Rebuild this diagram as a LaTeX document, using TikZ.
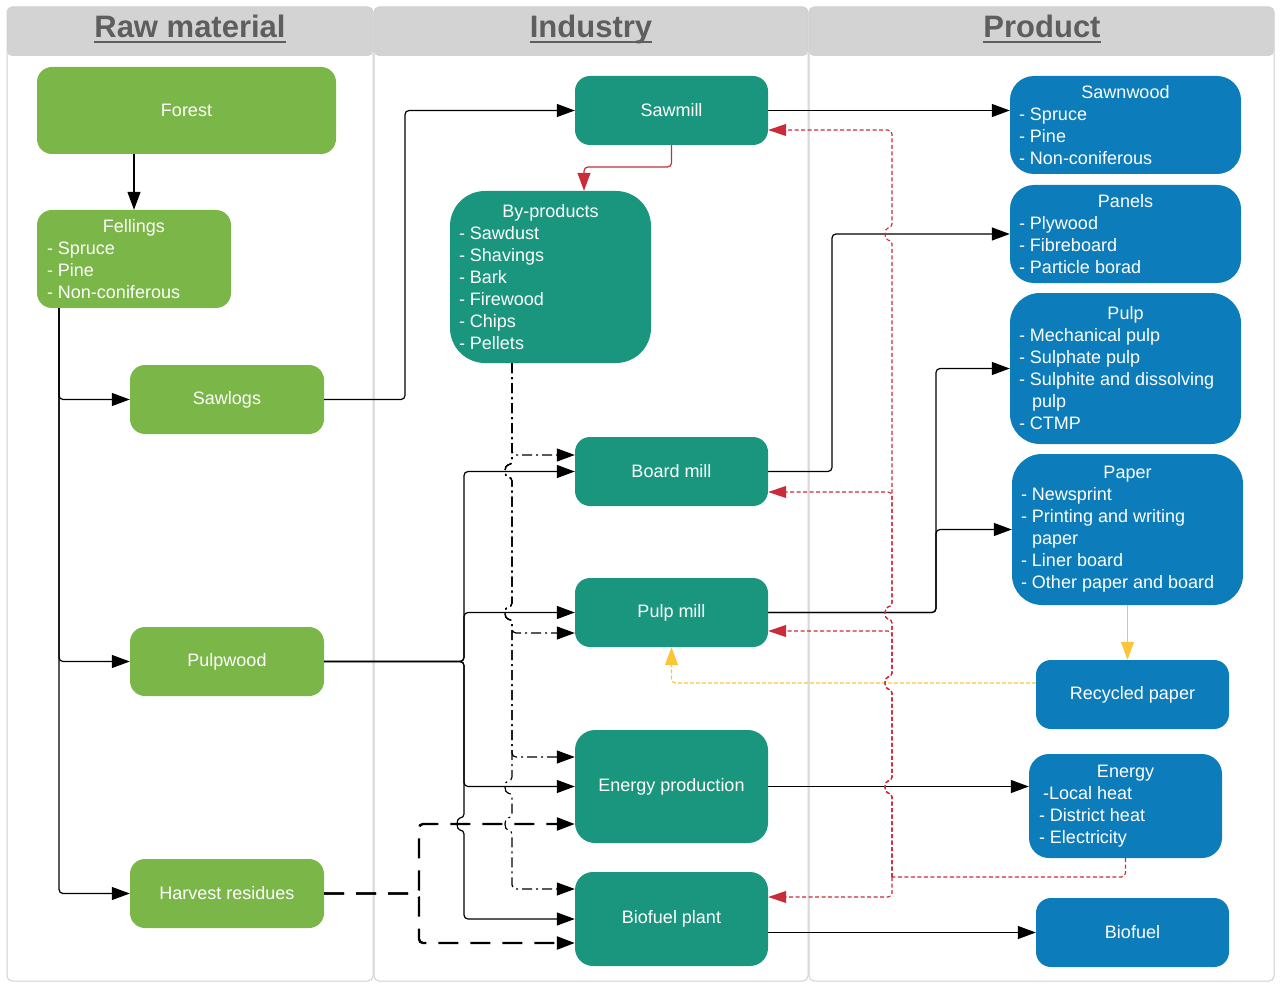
\documentclass[tikz,border=0pt]{standalone}
\usepackage{fontspec}
\setmainfont{Liberation Sans}
\usetikzlibrary{arrows.meta,calc}

\definecolor{rawgreen}{HTML}{7AB648}
\definecolor{indteal}{HTML}{19967D}
\definecolor{prodblue}{HTML}{0C7CBA}
\definecolor{backred}{HTML}{C92D39}
\definecolor{recyyellow}{HTML}{FCC438}
\definecolor{hdrgray}{HTML}{D3D3D3}
\definecolor{hdrtext}{HTML}{5E5E5E}
\definecolor{lanegray}{HTML}{CFCFCF}

\newcommand{\boxfont}{\fontsize{18}{22}\selectfont}
\newcommand{\hdrfont}{\fontsize{31}{36}\selectfont\bfseries}
\newcommand{\boxlist}[3]{\parbox{#1}{\centering #2\par\raggedright #3}}

\tikzset{
  raw/.style={fill=rawgreen, rounded corners=15pt, text=white, font=\boxfont,
    minimum width=194pt, minimum height=69pt, inner sep=0pt},
  ind/.style={fill=indteal, rounded corners=15pt, text=white, font=\boxfont,
    minimum width=193pt, minimum height=69pt, inner sep=0pt},
  prod/.style={fill=prodblue, rounded corners=24pt, text=white, font=\boxfont,
    minimum width=231pt, minimum height=98pt, inner sep=0pt},
  hdr/.style={anchor=base, inner sep=0pt, font=\hdrfont, text=hdrtext},
  hdrline/.style={draw=hdrtext, line width=2.5pt},
  flow/.style={draw=black, line width=1.2pt, rounded corners=4pt,
    -{Triangle[length=18pt,width=13pt]}},
  chip/.style={flow, dash pattern=on 10pt off 4pt on 2pt off 4pt},
  resid/.style={flow, line width=2.4pt, dash pattern=on 20pt off 12pt},
  back/.style={draw=backred, line width=1.1pt, dash pattern=on 4pt off 2.5pt,
    rounded corners=4pt, -{Triangle[length=18pt,width=12pt]}},
  byflow/.style={draw=backred, line width=1.2pt, rounded corners=4pt,
    -{Triangle[length=18pt,width=13pt]}},
  recflow/.style={draw=recyyellow, line width=1.3pt, rounded corners=4pt,
    -{Triangle[length=18pt,width=13pt]}},
  recback/.style={recflow, line width=1.2pt, dash pattern=on 4pt off 2pt},
}

\begin{document}
\begin{tikzpicture}[x=1pt,y=-1pt]
\useasboundingbox (0,0) rectangle (1280,987);

% lanes
\foreach \xa/\xb in {7/373,374/808,809/1274}{
  \fill[hdrgray, rounded corners=5pt] (\xa,7) rectangle (\xb,56);
  \draw[lanegray, line width=1pt, rounded corners=5pt] (\xa,7) rectangle (\xb,981);
}
\foreach \xc/\hname/\txt in {190/rawhdr/Raw material,591/indhdr/Industry,1042/prodhdr/Product}{
  \node[hdr] (\hname) at (\xc,38) {\txt};
  \draw[hdrline] ([yshift=-4pt]\hname.base west) -- ([yshift=-4pt]\hname.base east);
}

% raw material
\node[raw, minimum width=299pt, minimum height=87pt] (forest) at (186.5,110.5) {Forest};
\node[raw, minimum height=98pt] (fell) at (134,259)
  {\boxlist{174pt}{Fellings}{- Spruce\\- Pine\\- Non-coniferous}};
\node[raw] (sawlogs) at (227,399.5) {Sawlogs};
\node[raw] (pulpwood) at (227,661.5) {Pulpwood};
\node[raw] (harvest) at (227,893.5) {Harvest residues};

% industry
\node[ind] (sawmill) at (671.5,110.5) {Sawmill};
\node[ind, minimum width=201pt, minimum height=172pt, rounded corners=35pt] (byprod) at (550.5,277)
  {\boxlist{183pt}{By-products}{- Sawdust\\- Shavings\\- Bark\\- Firewood\\- Chips\\- Pellets}};
\node[ind] (board) at (671.5,471.5) {Board mill};
\node[ind] (pulpmill) at (671.5,612.5) {Pulp mill};
\node[ind, minimum height=113pt, rounded corners=20pt] (energyprod) at (671.5,786.5) {Energy production};
\node[ind, minimum height=94pt, rounded corners=18pt] (biofuelpl) at (671.5,919) {Biofuel plant};

% product
\node[prod] (sawn) at (1125.5,125)
  {\boxlist{213pt}{Sawnwood}{- Spruce\\- Pine\\- Non-coniferous}};
\node[prod] (panels) at (1125.5,234)
  {\boxlist{213pt}{Panels}{- Plywood\\- Fibreboard\\- Particle borad}};
\node[prod, minimum height=151pt, rounded corners=30pt] (pulp) at (1125.5,368.5)
  {\boxlist{213pt}{Pulp}{- Mechanical pulp\\- Sulphate pulp\\- Sulphite and dissolving\\\hspace*{13pt}pulp\\- CTMP}};
\node[prod, minimum height=151pt, rounded corners=30pt] (paper) at (1127.5,529.5)
  {\boxlist{213pt}{Paper}{- Newsprint\\- Printing and writing\\\hspace*{11pt}paper\\- Liner board\\- Other paper and board}};
\node[prod, minimum width=193pt, minimum height=69pt, rounded corners=15pt] (recyc) at (1132.5,694.5) {Recycled paper};
\node[prod, minimum width=193pt, minimum height=104pt, rounded corners=20pt] (energy) at (1125.5,806)
  {\boxlist{173pt}{Energy}{\hspace*{4pt}-Local heat\\- District heat\\- Electricity}};
\node[prod, minimum width=193pt, minimum height=69pt, rounded corners=15pt] (biofuel) at (1132.5,932.5) {Biofuel};

\coordinate (fellout) at (59,308);
\coordinate (bpout) at ($(byprod.south)+(-38.5,0)$);
\coordinate (redjoin) at (892,877);

% raw material flows
\draw[flow] (forest.south -| fell.north) -- (fell.north);
\draw[flow] (fellout) |- (sawlogs.west);
\draw[flow] (fellout) |- (pulpwood.west);
\draw[flow] (fellout) |- (harvest.west);
\draw[flow] (sawlogs.east) -- (405,399.5) |- (sawmill.west);
\draw[flow] (pulpwood.east) -- (464,661.5) -- (464,471.5) -- (board.west);
\draw[flow] (pulpwood.east) -- (464,661.5) -- (464,612.5) -- (pulpmill.west);
\draw[flow] (pulpwood.east) -- (464,661.5) -- (464,786.5) -- (energyprod.west);
\draw[flow] (pulpwood.east) -- (464,661.5) -- (464,818) .. controls (456,818) and (456,830) .. (464,830)
  -- (464,919) -- (biofuelpl.west);
\draw[resid] (harvest.east) -- (419,893.5) -- (419,824) -- ($(energyprod.west)+(0,37.5)$);
\draw[resid] (harvest.east) -- (419,893.5) -- (419,943) -- ($(biofuelpl.west)+(0,24)$);

% by-products
\draw[byflow] (sawmill.south) |- (584,167) -- ($(byprod.north)+(33.5,0)$);
\draw[chip] (bpout) -- (512,455) -- ($(board.west)+(0,-16.5)$);
\draw[chip] (bpout) -- (512,465) .. controls (504,465) and (504,477) .. (512,477)
  -- (512,607) .. controls (504,607) and (504,619) .. (512,619)
  -- (512,633) -- ($(pulpmill.west)+(0,20.5)$);
\draw[chip] (bpout) -- (512,465) .. controls (504,465) and (504,477) .. (512,477)
  -- (512,607) .. controls (504,607) and (504,619) .. (512,619)
  -- (512,757) -- ($(energyprod.west)+(0,-29.5)$);
\draw[chip] (bpout) -- (512,465) .. controls (504,465) and (504,477) .. (512,477)
  -- (512,607) .. controls (504,607) and (504,619) .. (512,619)
  -- (512,781) .. controls (504,781) and (504,793) .. (512,793)
  -- (512,818) .. controls (504,818) and (504,830) .. (512,830)
  -- (512,889) -- ($(biofuelpl.west)+(0,-30)$);

% industry to product
\draw[flow] (sawmill.east) -- (sawmill.east -| sawn.west);
\draw[flow] (board.east) -- (832,471.5) |- (panels.west);
\draw[flow] (pulpmill.east) -- (936,612.5) |- (pulp.west);
\draw[flow] (pulpmill.east) -- (936,612.5) |- (paper.west);
\draw[flow] (energyprod.east) -- (energyprod.east -| energy.west);
\draw[flow] (biofuelpl.east |- biofuel.west) -- (biofuel.west);

% recycling
\draw[recflow] (paper.south) -- (paper.south |- recyc.north);
\draw[recback] ($(recyc.west)+(0,-11.5)$) -| (pulpmill.south);

% energy back to industry
\draw[back, -] (energy.south) |- (redjoin);
\draw[back] (redjoin) -- (892,897) -- ($(biofuelpl.east)+(0,-22)$);
\draw[back] (redjoin)
  -- (892,793) .. controls (884,793) and (884,781) .. (892,781)
  -- (892,689) .. controls (884,689) and (884,677) .. (892,677)
  -- (892,631) -- ($(pulpmill.east)+(0,18.5)$);
\draw[back] (redjoin)
  -- (892,793) .. controls (884,793) and (884,781) .. (892,781)
  -- (892,689) .. controls (884,689) and (884,677) .. (892,677)
  -- (892,619) .. controls (884,619) and (884,607) .. (892,607)
  -- (892,492) -- ($(board.east)+(0,20.5)$);
\draw[back] (redjoin)
  -- (892,793) .. controls (884,793) and (884,781) .. (892,781)
  -- (892,689) .. controls (884,689) and (884,677) .. (892,677)
  -- (892,619) .. controls (884,619) and (884,607) .. (892,607)
  -- (892,240) .. controls (884,240) and (884,228) .. (892,228)
  -- (892,130) -- ($(sawmill.east)+(0,19.5)$);

\end{tikzpicture}
\end{document}
